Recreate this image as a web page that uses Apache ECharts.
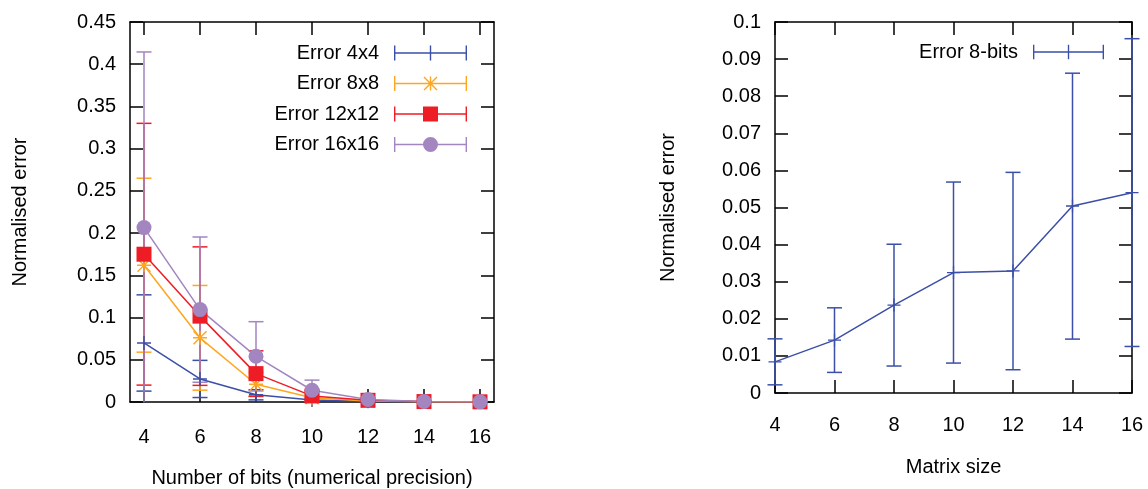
<!DOCTYPE html>
<html>
<head>
<meta charset="utf-8">
<script src="https://cdn.jsdelivr.net/npm/echarts@6/dist/echarts.min.js"></script>
<style>
  html, body { margin: 0; padding: 0; background: #fff; }
  #chart { width: 1148px; height: 489px; }
</style>
</head>
<body>
<div id="chart"></div>
<script>
// left plot: normalised error vs number of bits, one series per matrix size
var bits = [4, 6, 8, 10, 12, 14, 16];
var err4x4 = [0.0699, 0.0273, 0.0085, 0.0025, 0.0008, 0.0002, 0.0001];
var dev4x4 = [0.057, 0.022, 0.006, 0.002, 0.0008, 0.0002, 0.0001];
var err8x8 = [0.162, 0.076, 0.021, 0.005, 0.0012, 0.0003, 0.0001];
var dev8x8 = [0.103, 0.062, 0.014, 0.004, 0.001, 0.0003, 0.0001];
var err12x12 = [0.175, 0.1017, 0.0336, 0.0072, 0.002, 0.0005, 0.0002];
var dev12x12 = [0.155, 0.082, 0.027, 0.006, 0.0015, 0.0004, 0.0001];
var err16x16 = [0.2065, 0.1094, 0.0541, 0.0139, 0.003, 0.0006, 0.0002];
var dev16x16 = [0.208, 0.086, 0.041, 0.012, 0.002, 0.0005, 0.0001];

// right plot: normalised error vs matrix size at 8 bits
var sizes = [4, 6, 8, 10, 12, 14, 16];
var err8bits = [0.0084, 0.01425, 0.0237, 0.03247, 0.0329, 0.0504, 0.0540];
var err8bitsLow = [0.0022, 0.00555, 0.00727, 0.00807, 0.00627, 0.01453, 0.01254];
var err8bitsHigh = [0.0146, 0.02296, 0.0401, 0.05686, 0.05947, 0.0862, 0.0955];

var FONT = 'Liberation Sans';
var FS = 20;
var BLUE = '#3b4fa8', ORANGE = '#ffa620', RED = '#ee1c25', PURPLE = '#a385c0';

// symbols
var PLUS = 'path://M0,6.3H14V7.7H0Z M6.3,0H7.7V14H6.3Z';
var STAR = 'path://M0,6.3H14V7.7H0Z M6.3,0H7.7V14H6.3Z M0,1L1,0L14,13L13,14Z M13,0L14,1L1,14L0,13Z';
// legend samples: errorbar with caps + marker in the middle
var BAR = 'M0,6.8H73V8.2H0Z M0,0H1.4V15H0Z M71.6,0H73V15H71.6Z ';
var ICON_PLUS = 'path://' + BAR + 'M35.8,0H37.2V15H35.8Z';
var ICON_STAR = 'path://' + BAR + 'M35.8,0.5H37.2V14.5H35.8Z M29.5,1.5L30.5,0.5L43.5,13.5L42.5,14.5Z M42.5,0.5L43.5,1.5L30.5,14.5L29.5,13.5Z';
var ICON_SQUARE = 'path://' + BAR + 'M29,0H44V15H29Z';
var ICON_CIRCLE = 'path://' + BAR + 'M44,7.5A7.5,7.5,0,1,1,29,7.5A7.5,7.5,0,1,1,44,7.5Z';

function errorBars(cap) {
  return function (params, api) {
    var x = api.value(0);
    var top = api.coord([x, api.value(2)]);
    var bot = api.coord([x, api.value(1)]);
    var st = { stroke: api.visual('color'), lineWidth: 1.5 };
    return {
      type: 'group',
      children: [
        { type: 'line', shape: { x1: top[0], y1: top[1], x2: bot[0], y2: bot[1] }, style: st },
        { type: 'line', shape: { x1: top[0] - cap, y1: top[1], x2: top[0] + cap, y2: top[1] }, style: st },
        { type: 'line', shape: { x1: bot[0] - cap, y1: bot[1], x2: bot[0] + cap, y2: bot[1] }, style: st }
      ]
    };
  };
}

function bars(xs, lo, hi, color, idx, clip) {
  return {
    type: 'custom', xAxisIndex: idx, yAxisIndex: idx, clip: clip, silent: true,
    itemStyle: { color: color },
    renderItem: errorBars(7.5),
    data: xs.map(function (x, i) { return [x, lo[i], hi[i]]; })
  };
}

function points(name, xs, ys, color, symbol, size, idx) {
  return {
    type: 'line', name: name, xAxisIndex: idx, yAxisIndex: idx,
    data: xs.map(function (x, i) { return [x, ys[i]]; }),
    symbol: symbol, symbolSize: size, showAllSymbol: true,
    lineStyle: { color: color, width: 1.5 },
    itemStyle: { color: color, borderWidth: 0 },
    emphasis: { disabled: true }
  };
}

function sym(vals, devs, sign) {
  return vals.map(function (v, i) { return v + sign * devs[i]; });
}

function xAxes(grid, min, max, ticks, name, gap, margin, top) {
  var a = {
    gridIndex: grid, type: 'value', min: min, max: max, position: top ? 'top' : 'bottom',
    axisLine: { show: true, onZero: false, lineStyle: { color: '#000', width: 1.5 } },
    axisTick: { show: true, inside: true, length: 13, customValues: ticks, lineStyle: { color: '#000', width: 1.5 } },
    axisLabel: { show: !top, customValues: ticks, margin: margin, fontSize: FS, color: '#000', fontFamily: FONT },
    splitLine: { show: false }
  };
  if (!top) {
    a.name = name; a.nameLocation = 'middle'; a.nameGap = gap;
    a.nameTextStyle = { fontSize: FS, color: '#000', fontFamily: FONT };
  }
  return a;
}

function yAxes(grid, max, interval, name, gap, right) {
  var a = {
    gridIndex: grid, type: 'value', min: 0, max: max, interval: interval, position: right ? 'right' : 'left',
    axisLine: { show: true, onZero: false, lineStyle: { color: '#000', width: 1.5 } },
    axisTick: { show: true, inside: true, length: 13, lineStyle: { color: '#000', width: 1.5 } },
    axisLabel: { show: !right, margin: 14, fontSize: FS, color: '#000', fontFamily: FONT },
    splitLine: { show: false }
  };
  if (!right) {
    a.name = name; a.nameLocation = 'middle'; a.nameGap = gap;
    a.nameTextStyle = { fontSize: FS, color: '#000', fontFamily: FONT };
  }
  return a;
}

var chart = echarts.init(document.getElementById('chart'));
chart.setOption({
  animation: false,
  backgroundColor: '#fff',
  grid: [
    { left: 130, top: 22, width: 364, height: 380, outerBoundsMode: 'none' },
    { left: 775, top: 22, width: 357, height: 371, outerBoundsMode: 'none' }
  ],
  xAxis: [
    xAxes(0, 3.5, 16.5, bits, 'Number of bits (numerical precision)', 66, 25, false),
    xAxes(1, 4, 16, sizes, 'Matrix size', 64, 22, false),
    xAxes(0, 3.5, 16.5, bits, '', 0, 0, true),
    xAxes(1, 4, 16, sizes, '', 0, 0, true)
  ],
  yAxis: [
    yAxes(0, 0.45, 0.05, 'Normalised error', 100, false),
    yAxes(1, 0.1, 0.01, 'Normalised error', 97, false),
    yAxes(0, 0.45, 0.05, '', 0, true),
    yAxes(1, 0.1, 0.01, '', 0, true)
  ],
  legend: [
    {
      data: [
        { name: 'Error 4x4', icon: ICON_PLUS },
        { name: 'Error 8x8', icon: ICON_STAR },
        { name: 'Error 12x12', icon: ICON_SQUARE },
        { name: 'Error 16x16', icon: ICON_CIRCLE }
      ],
      orient: 'vertical', right: 681, top: 43, padding: 0, align: 'right',
      itemWidth: 73, itemHeight: 15, itemGap: 10.5, selectedMode: false,
      itemStyle: { borderWidth: 0 },
      textStyle: { fontSize: FS, color: '#000', fontFamily: FONT, padding: [0, 10, 0, 0] }
    },
    {
      data: [{ name: 'Error 8-bits', icon: ICON_PLUS }],
      orient: 'vertical', right: 44, top: 42, padding: 0, align: 'right',
      itemWidth: 71, itemHeight: 15, selectedMode: false,
      itemStyle: { borderWidth: 0 },
      textStyle: { fontSize: FS, color: '#000', fontFamily: FONT, padding: [0, 10, 0, 0] }
    }
  ],
  series: [
    bars(bits, sym(err4x4, dev4x4, -1), sym(err4x4, dev4x4, 1), BLUE, 0, true),
    points('Error 4x4', bits, err4x4, BLUE, PLUS, 14, 0),
    bars(bits, sym(err8x8, dev8x8, -1), sym(err8x8, dev8x8, 1), ORANGE, 0, true),
    points('Error 8x8', bits, err8x8, ORANGE, STAR, 14, 0),
    bars(bits, sym(err12x12, dev12x12, -1), sym(err12x12, dev12x12, 1), RED, 0, true),
    points('Error 12x12', bits, err12x12, RED, 'rect', 15, 0),
    bars(bits, sym(err16x16, dev16x16, -1), sym(err16x16, dev16x16, 1), PURPLE, 0, true),
    points('Error 16x16', bits, err16x16, PURPLE, 'circle', 15, 0),
    bars(sizes, err8bitsLow, err8bitsHigh, BLUE, 1, false),
    points('Error 8-bits', sizes, err8bits, BLUE, PLUS, 13, 1)
  ]
});
</script>
</body>
</html>
